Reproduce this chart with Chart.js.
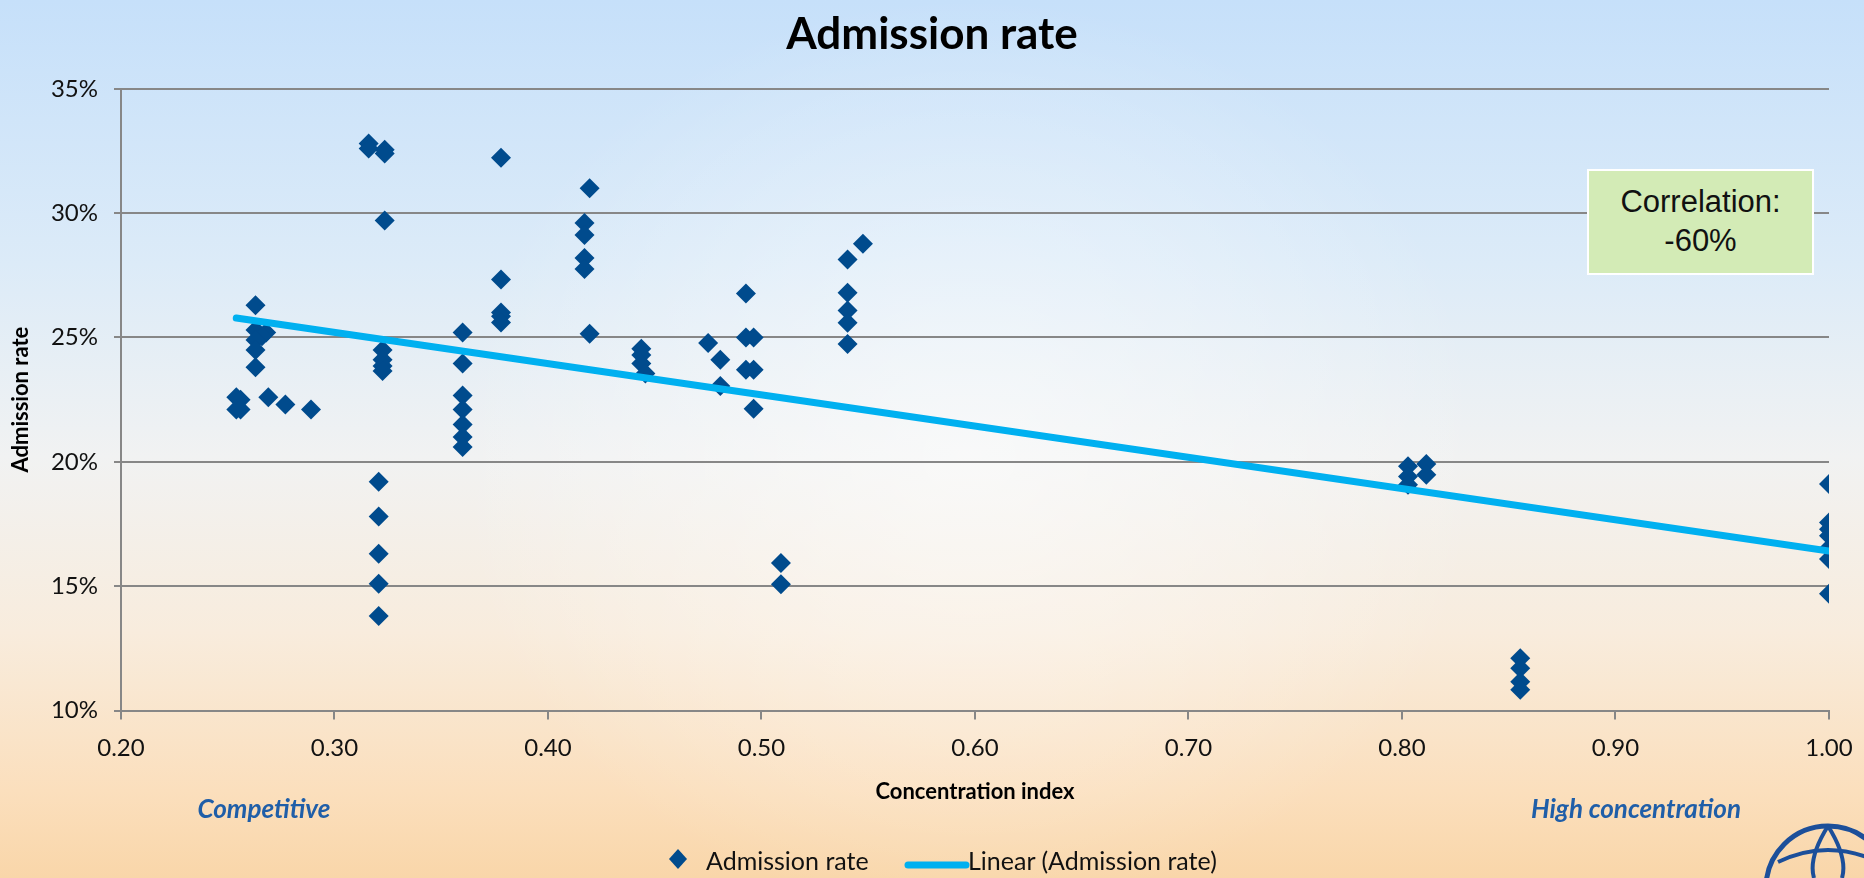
<!DOCTYPE html>
<html>
<head>
<meta charset="utf-8">
<script src="https://cdn.jsdelivr.net/npm/chart.js@4.4.1/dist/chart.umd.min.js"></script>
<style>
  html, body { margin: 0; padding: 0; }
  body {
    width: 1864px; height: 878px; overflow: hidden; position: relative;
    background:
      radial-gradient(ellipse 520px 460px at 52% 52%, rgba(255,255,255,0.55), rgba(255,255,255,0) 100%),
      linear-gradient(to bottom, #c6e0fa 0%, #dcebf8 30%, #f1f2f2 52%, #f8ecdd 72%, #fbdfbd 90%, #f9d6a9 100%);
    font-family: Lato, "Open Sans", sans-serif;
  }
  #wrap { position: absolute; left: 0; top: 0; width: 1864px; height: 878px; }
  .note { position: absolute; font-weight: bold; font-style: italic; color: #1f5ea8; font-size: 26px; transform: translate(-50%, -50%); white-space: nowrap; }
  #corr {
    position: absolute; left: 1587px; top: 169px; width: 223px; height: 91px;
    background: #d3ebb6; border: 2px solid #fff;
    font-family: "Liberation Sans", Arial, sans-serif; font-size: 31px; line-height: 39px;
    color: #111; text-align: center; padding-top: 11px; box-sizing: content-box;
  }
  #legend { position: absolute; left: 0; top: 0; font-size: 25px; color: #111; }
  #legend span { position: absolute; white-space: nowrap; transform: translateY(-50%); }
  #logo { position: absolute; left: 1756px; top: 818px; }
</style>
</head>
<body>
<div id="wrap"><canvas id="chart" width="1864" height="878"></canvas></div>
<div class="note" style="left:264px; top:808px;">Competitive</div>
<div class="note" style="left:1636px; top:808px;">High concentration</div>
<div id="corr">Correlation:<br>-60%</div>
<div id="legend">
  <span style="left:668px; top:860px;"><svg width="20" height="22" viewBox="0 0 20 22"><polygon points="10,1 19,11 10,21 1,11" fill="#004b8d"/></svg></span>
  <span style="left:706px; top:860px;">Admission rate</span>
  <span style="left:904px; top:860px;"><svg width="66" height="10" viewBox="0 0 66 10"><line x1="4" y1="5" x2="62" y2="5" stroke="#00b0f0" stroke-width="7" stroke-linecap="round"/></svg></span>
  <span style="left:968px; top:860px;">Linear (Admission rate)</span>
</div>
<svg id="logo" width="108" height="60" viewBox="0 0 108 60">
  <circle cx="72" cy="70" r="62" fill="none" stroke="#1c4f9a" stroke-width="5"/>
  <path d="M22 44 Q72 20 122 44" fill="none" stroke="#1c4f9a" stroke-width="4"/>
  <path d="M72 8 Q52 40 58 60" fill="none" stroke="#1c4f9a" stroke-width="4"/>
  <path d="M72 8 Q92 40 86 60" fill="none" stroke="#1c4f9a" stroke-width="4"/>
</svg>
<script>
// Concentration index (x) and admission rate in % (y)
const concentrationIndex = [
  0.254, 0.256, 0.254, 0.256, 0.263, 0.263, 0.268, 0.266, 0.263, 0.263, 0.263, 0.269, 0.277, 0.289,
  0.316, 0.316, 0.3235, 0.3235, 0.3235,
  0.3225, 0.3225, 0.3225, 0.3225,
  0.3207, 0.3207, 0.3207, 0.3207, 0.3207,
  0.360, 0.360, 0.360, 0.360, 0.360, 0.360, 0.360,
  0.378, 0.378, 0.378, 0.378, 0.378,
  0.4195, 0.4171, 0.4171, 0.4171, 0.4171, 0.4195,
  0.4437, 0.4437, 0.4437, 0.4456,
  0.475, 0.4807, 0.4807,
  0.4927, 0.4927, 0.4963, 0.4927, 0.4963, 0.4963,
  0.5091, 0.5091,
  0.5475, 0.5403, 0.5403, 0.5403, 0.5403, 0.5403,
  0.8028, 0.8028, 0.8028, 0.8114, 0.8114,
  0.8554, 0.8554, 0.8554, 0.8554,
  1.0, 1.0, 1.0, 1.0, 1.0, 1.0, 1.0
];
const admissionRate = [
  22.6, 22.5, 22.1, 22.1, 26.3, 25.3, 25.2, 25.05, 24.9, 24.5, 23.8, 22.6, 22.3, 22.1,
  32.8, 32.6, 32.55, 32.4, 29.7,
  24.5, 24.1, 23.85, 23.65,
  19.2, 17.8, 16.3, 15.1, 13.8,
  25.2, 23.95, 22.67, 22.1, 21.5, 21.0, 20.6,
  32.23, 27.33, 26.0, 25.85, 25.6,
  31.0, 29.6, 29.12, 28.2, 27.75, 25.15,
  24.55, 24.3, 23.95, 23.55,
  24.78, 24.1, 23.05,
  26.77, 25.0, 25.0, 23.7, 23.7, 22.13,
  15.93, 15.08,
  28.77, 28.14, 26.8, 26.08, 25.59, 24.74,
  19.82, 19.41, 19.08, 19.91, 19.48,
  12.1, 11.7, 11.16, 10.83,
  19.11, 17.56, 17.29, 17.03, 16.53, 16.09, 14.69
];
const xTicks = [0.2, 0.3, 0.4, 0.5, 0.6, 0.7, 0.8, 0.9, 1.0];
const yTicks = [10, 15, 20, 25, 30, 35];

const points = concentrationIndex.map((x, i) => ({ x: x, y: admissionRate[i] }));

// least squares trend line
const n = points.length;
const mx = concentrationIndex.reduce((a, b) => a + b, 0) / n;
const my = admissionRate.reduce((a, b) => a + b, 0) / n;
let sxy = 0, sxx = 0;
points.forEach(p => { sxy += (p.x - mx) * (p.y - my); sxx += (p.x - mx) * (p.x - mx); });
const slope = sxy / sxx;
const icept = my - slope * mx;
const xMin = Math.min(...concentrationIndex), xMax = Math.max(...concentrationIndex);
const trend = [{ x: xMin, y: icept + slope * xMin }, { x: xMax, y: icept + slope * xMax }];

const gridColor = '#878787';
const tickFont = { family: 'Lato', size: 24 };

new Chart(document.getElementById('chart'), {
  type: 'scatter',
  data: {
    datasets: [
      { label: 'Linear (Admission rate)', type: 'line', data: trend, order: 0,
        borderColor: '#00b0f0', borderWidth: 7, pointRadius: 0, borderCapStyle: 'round', fill: false },
      { label: 'Admission rate', data: points, order: 1,
        pointStyle: 'rectRot', pointRadius: 10, pointHoverRadius: 10,
        backgroundColor: '#004b8d', borderColor: '#004b8d', borderWidth: 0 }
    ]
  },
  options: {
    responsive: false,
    animation: false,
    devicePixelRatio: 1,
    layout: { padding: 0 },
    plugins: {
      legend: { display: false },
      tooltip: { enabled: false },
      title: { display: true, text: 'Admission rate', color: '#000',
        font: { family: 'Lato', size: 44, weight: 'bold' }, padding: { top: 8, bottom: 28 } }
    },
    scales: {
      x: {
        type: 'linear', min: 0.2, max: 1.0,
        afterBuildTicks: s => { s.ticks = xTicks.map(v => ({ value: v })); },
        afterFit: s => { s.height = 167.5; s.paddingRight = 35; s.paddingLeft = 0; },
        ticks: { callback: v => v.toFixed(2), color: '#111', font: tickFont, padding: 14, maxRotation: 0 },
        grid: { drawOnChartArea: false, drawTicks: true, tickLength: 9, color: gridColor, lineWidth: 2 },
        border: { display: true, color: gridColor, width: 2 },
        title: { display: true, text: 'Concentration index', color: '#000',
          font: { family: 'Lato', size: 22, weight: 'bold' }, padding: { top: 0, bottom: 73 } }
      },
      y: {
        type: 'linear', min: 10, max: 35,
        afterBuildTicks: s => { s.ticks = yTicks.map(v => ({ value: v })); },
        afterFit: s => { s.width = 121; },
        ticks: { callback: v => v + '%', color: '#111', font: tickFont, padding: 16 },
        grid: { color: gridColor, lineWidth: 2, tickLength: 7 },
        border: { display: true, color: gridColor, width: 2 },
        title: { display: true, text: 'Admission rate', color: '#000',
          font: { family: 'Lato', size: 22, weight: 'bold' }, padding: { top: 8, bottom: 0 } }
      }
    }
  }
});
</script>
</body>
</html>
